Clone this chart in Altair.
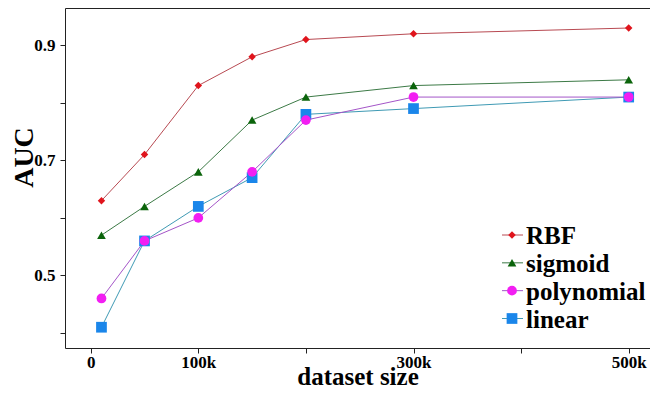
import altair as alt
import pandas as pd

# ---- data ----
sizes = [10000, 50000, 100000, 150000, 200000, 300000, 500000]
rbf = [0.63, 0.71, 0.83, 0.88, 0.91, 0.92, 0.93]
sigmoid = [0.57, 0.62, 0.68, 0.77, 0.81, 0.83, 0.84]
polynomial = [0.46, 0.56, 0.60, 0.68, 0.77, 0.81, 0.81]
linear = [0.41, 0.56, 0.62, 0.67, 0.78, 0.79, 0.81]

series_names = ["RBF", "sigmoid", "polynomial", "linear"]
draw_order = ["RBF", "sigmoid", "linear", "polynomial"]
values = {"RBF": rbf, "sigmoid": sigmoid, "polynomial": polynomial, "linear": linear}

marker_colors = ["#e0141c", "#0b640b", "#f21ef2", "#1a86ea"]
line_colors = ["#b84a52", "#3c7a46", "#a455c8", "#3f9ab4"]
shapes = ["diamond", "triangle-up", "circle", "square"]
marker_sizes = [56, 115, 56, 68]

x_ticks = [0, 100000, 200000, 300000, 400000, 500000]
y_ticks = [0.4, 0.5, 0.6, 0.7, 0.8, 0.9]

rows = []
for s in draw_order:
    for xv, yv in zip(sizes, values[s]):
        rows.append({"size": xv, "auc": yv, "series": s})
df = pd.DataFrame(rows)

leg_df = pd.DataFrame({"series": series_names, "row": list(range(len(series_names)))})

FONT = "Liberation Serif"
xdom = [-23900, 519800]
ydom = [0.3739, 0.9648]

x_label_expr = ("datum.value == 0 ? '0' : (datum.value == 100000 || datum.value == 300000 || "
                "datum.value == 500000) ? (datum.value / 1000) + 'k' : ''")
y_label_expr = ("(abs(datum.value - 0.5) < 0.001 || abs(datum.value - 0.7) < 0.001 || "
                "abs(datum.value - 0.9) < 0.001) ? format(datum.value, '.1f') : ''")

color_line = alt.Color("series:N", scale=alt.Scale(domain=series_names, range=line_colors), legend=None)
color_mark = alt.Color("series:N", scale=alt.Scale(domain=series_names, range=marker_colors), legend=None)
shape_enc = alt.Shape("series:N", scale=alt.Scale(domain=series_names, range=shapes), legend=None)
size_enc = alt.Size("series:N", scale=alt.Scale(domain=series_names, range=marker_sizes), legend=None)

base = alt.Chart(df)

lines = base.mark_line(strokeWidth=1).encode(
    x=alt.X("size:Q", scale=alt.Scale(domain=xdom, nice=False, zero=False),
            axis=alt.Axis(orient="bottom", values=x_ticks, labelExpr=x_label_expr,
                          title="dataset size", titleY=36, titleBaseline="alphabetic",
                          titleFontSize=25, labelPadding=1, labelFlush=False)),
    y=alt.Y("auc:Q", scale=alt.Scale(domain=ydom, nice=False, zero=False),
            axis=alt.Axis(values=y_ticks, labelExpr=y_label_expr, title="AUC",
                          titleX=-33, titleY=149, titleAngle=270, titleBaseline="alphabetic",
                          titleAlign="center", titleFontSize=28, labelPadding=5)),
    color=color_line,
    detail="series:N",
)

points = base.mark_point(filled=True, opacity=1).encode(
    x=alt.X("size:Q", scale=alt.Scale(domain=xdom, nice=False, zero=False),
            axis=alt.Axis(orient="top", values=x_ticks, labels=False, title=None)),
    y=alt.Y("auc:Q", scale=alt.Scale(domain=ydom, nice=False, zero=False), axis=None),
    color=color_mark,
    shape=shape_enc,
    size=size_enc,
)

leg_y = alt.Y("row:Q", scale=alt.Scale(domain=[0, 3], range=[227, 310.5]), axis=None)
leg_base = alt.Chart(leg_df)

leg_rule = leg_base.mark_rule(strokeWidth=1).encode(
    x=alt.value(437), x2=alt.value(458), y=leg_y, color=color_line)
leg_pt = leg_base.mark_point(filled=True, opacity=1).encode(
    x=alt.value(447), y=leg_y, color=color_mark, shape=shape_enc, size=size_enc)
leg_text = leg_base.mark_text(align="left", baseline="middle", font=FONT, fontSize=25,
                              fontWeight="bold", color="black", dy=1).encode(
    x=alt.value(461), y=leg_y, text="series:N")

chart = alt.layer(lines, points, leg_rule, leg_pt, leg_text).resolve_scale(
    y="independent", color="independent"
).resolve_axis(x="independent").properties(
    width=585, height=340,
    padding={"left": 57, "top": 0, "right": 0, "bottom": 38},
    autosize=alt.AutoSizeParams(type="none"),
).configure_view(stroke=None).configure_axis(
    labelFont=FONT, labelFontSize=17, labelFontWeight="bold", labelColor="black",
    titleFont=FONT, titleFontWeight="bold", titleColor="black",
    domainColor="#222222", tickColor="#222222", tickSize=5, grid=False,
    domainWidth=1, tickWidth=1,
)

chart.save("out.html", embed_options={"renderer": "svg", "actions": False})
